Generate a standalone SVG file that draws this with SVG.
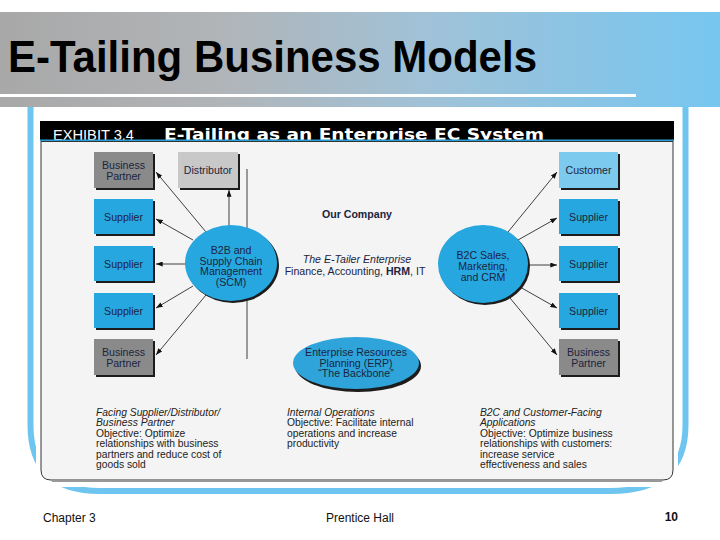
<svg xmlns="http://www.w3.org/2000/svg" width="720" height="540" viewBox="0 0 720 540">
<defs>
<linearGradient id="hdr" x1="0" y1="0" x2="1" y2="0">
<stop offset="0" stop-color="#a8a8a8"/>
<stop offset="0.3" stop-color="#b1b4b7"/>
<stop offset="0.6" stop-color="#a0c2d8"/>
<stop offset="1" stop-color="#76c6f0"/>
</linearGradient>
<marker id="ah" viewBox="0 0 8 6" refX="8" refY="3" markerWidth="7" markerHeight="5" orient="auto" markerUnits="userSpaceOnUse">
<path d="M0,0 L8,3 L0,6 Z" fill="#111"/>
</marker>
<style>
.sans{font-family:"Liberation Sans",Arial,sans-serif}
.lbl{font-family:"Liberation Sans",Arial,sans-serif;font-size:10.6px;fill:#1b2440;text-anchor:middle}
.cap{font-family:"Liberation Sans",Arial,sans-serif;font-size:10.3px;fill:#222}
.sh{fill:#1c1c1c}
.blue{fill:#27a7df}
.gray{fill:#8a8a8a}
.conn line{stroke:#111;stroke-width:0.8;fill:none}
.foot{font-family:"Liberation Sans",Arial,sans-serif;font-size:12px;fill:#111}
</style>
</defs>
<rect width="720" height="540" fill="#ffffff"/>
<!-- header band -->
<rect x="0" y="12" width="720" height="95" fill="url(#hdr)"/>
<rect x="0" y="94" width="636" height="3" fill="#ffffff"/>
<text x="8" y="72" class="sans" font-size="45" font-weight="bold" fill="#000" textLength="529" lengthAdjust="spacingAndGlyphs">E-Tailing Business Models</text>
<!-- frame -->
<path d="M30.5,107 V425 Q30.5,491 100,491 H610 Q685.5,491 685.5,425 V107" fill="none" stroke="#6ec5f0" stroke-width="6"/>
<rect x="36" y="108" width="642" height="379" fill="#ffffff"/>
<!-- exhibit -->
<rect x="40" y="121" width="634" height="20" fill="#000"/>
<text x="53" y="140" class="sans" font-size="14" fill="#fff" textLength="81" lengthAdjust="spacingAndGlyphs">EXHIBIT 3.4</text>
<text x="164" y="140" font-family="'DejaVu Sans',sans-serif" font-weight="bold" font-size="16" fill="#fff" textLength="380" lengthAdjust="spacingAndGlyphs">E-Tailing as an Enterprise EC System</text>
<rect x="40" y="139.5" width="634" height="2" fill="#2a9fd6"/>
<path d="M41,141.5 H673 V470 Q673,480 663,480 H51 Q41,480 41,470 Z" fill="#f4f4f4" stroke="#333" stroke-width="1"/>
<path d="M52,481.5 H662" stroke="#999" stroke-width="1.2"/>
<!-- connectors -->
<g id="connectors" class="conn">
<line x1="247" y1="169" x2="247" y2="359"/>
<line x1="229" y1="226" x2="229" y2="190" marker-end="url(#ah)"/>
<line x1="206" y1="232" x2="156" y2="172" marker-end="url(#ah)"/>
<line x1="193" y1="240" x2="156" y2="219" marker-end="url(#ah)"/>
<line x1="186" y1="264" x2="156" y2="264" marker-end="url(#ah)"/>
<line x1="193" y1="286" x2="156" y2="308" marker-end="url(#ah)"/>
<line x1="206" y1="295" x2="156" y2="355" marker-end="url(#ah)"/>
<line x1="508" y1="232" x2="557" y2="172" marker-end="url(#ah)"/>
<line x1="518" y1="240" x2="557" y2="218" marker-end="url(#ah)"/>
<line x1="528" y1="265" x2="557" y2="265" marker-end="url(#ah)"/>
<line x1="520" y1="287" x2="557" y2="308" marker-end="url(#ah)"/>
<line x1="510" y1="298" x2="557" y2="355" marker-end="url(#ah)"/>
</g>
<!-- left boxes -->
<g id="bp-left-top">
<rect x="96" y="154" width="59" height="36" class="sh"/>
<rect x="94" y="152" width="59" height="36" class="gray"/>
<text class="lbl" x="123.5" y="168.5">Business</text>
<text class="lbl" x="123.5" y="179.5">Partner</text>
</g>
<g id="distributor">
<rect x="180" y="154" width="60" height="36" class="sh"/>
<rect x="178" y="152" width="60" height="36" fill="#c8c8c8"/>
<text class="lbl" x="208" y="174">Distributor</text>
</g>
<g id="supplier-left-1">
<rect x="96" y="201" width="59" height="35" class="sh"/>
<rect x="94" y="199" width="59" height="35" class="blue"/>
<text class="lbl" x="123.5" y="220.5">Supplier</text>
</g>
<g id="supplier-left-2">
<rect x="96" y="248" width="59" height="35" class="sh"/>
<rect x="94" y="246" width="59" height="35" class="blue"/>
<text class="lbl" x="123.5" y="267.5">Supplier</text>
</g>
<g id="supplier-left-3">
<rect x="96" y="295" width="59" height="35" class="sh"/>
<rect x="94" y="293" width="59" height="35" class="blue"/>
<text class="lbl" x="123.5" y="314.5">Supplier</text>
</g>
<g id="bp-left-bottom">
<rect x="96" y="341" width="59" height="36" class="sh"/>
<rect x="94" y="339" width="59" height="36" class="gray"/>
<text class="lbl" x="123.5" y="355.5">Business</text>
<text class="lbl" x="123.5" y="366.5">Partner</text>
</g>
<!-- right boxes -->
<g id="customer">
<rect x="561" y="154" width="59" height="36" class="sh"/>
<rect x="559" y="152" width="59" height="36" fill="#7ccaee"/>
<text class="lbl" x="588.5" y="174">Customer</text>
</g>
<g id="supplier-right-1">
<rect x="561" y="201" width="59" height="35" class="sh"/>
<rect x="559" y="199" width="59" height="35" class="blue"/>
<text class="lbl" x="588.5" y="220.5">Supplier</text>
</g>
<g id="supplier-right-2">
<rect x="561" y="248" width="59" height="35" class="sh"/>
<rect x="559" y="246" width="59" height="35" class="blue"/>
<text class="lbl" x="588.5" y="267.5">Supplier</text>
</g>
<g id="supplier-right-3">
<rect x="561" y="295" width="59" height="35" class="sh"/>
<rect x="559" y="293" width="59" height="35" class="blue"/>
<text class="lbl" x="588.5" y="314.5">Supplier</text>
</g>
<g id="bp-right">
<rect x="561" y="341" width="59" height="36" class="sh"/>
<rect x="559" y="339" width="59" height="36" class="gray"/>
<text class="lbl" x="588.5" y="355.5">Business</text>
<text class="lbl" x="588.5" y="366.5">Partner</text>
</g>
<!-- circles -->
<g id="b2b-scm">
<ellipse cx="233" cy="265" rx="46" ry="38" class="sh"/>
<ellipse cx="231" cy="263" rx="46" ry="38" class="blue"/>
<text class="lbl" x="231" y="254">B2B and</text>
<text class="lbl" x="231" y="264.5">Supply Chain</text>
<text class="lbl" x="231" y="275">Management</text>
<text class="lbl" x="231" y="285.5">(SCM)</text>
</g>
<g id="b2c-crm">
<ellipse cx="485" cy="266" rx="45" ry="39" class="sh"/>
<ellipse cx="483" cy="264" rx="45" ry="39" class="blue"/>
<text class="lbl" x="483" y="259">B2C Sales,</text>
<text class="lbl" x="483" y="270">Marketing,</text>
<text class="lbl" x="483" y="281">and CRM</text>
</g>
<g id="erp">
<ellipse cx="358" cy="366" rx="63" ry="26" class="sh"/>
<ellipse cx="356" cy="363" rx="63" ry="26" fill="#2ea4da"/>
<text class="lbl" x="356" y="356">Enterprise Resources</text>
<text class="lbl" x="356" y="366.5">Planning (ERP)</text>
<text class="lbl" x="356" y="377">“The Backbone”</text>
</g>
<g id="our-company">
<text class="lbl" x="357" y="218" font-weight="bold" fill="#111">Our Company</text>
<text class="lbl" x="357" y="262.5" font-style="italic" fill="#111" font-size="10.8">The E-Tailer Enterprise</text>
<text class="lbl" x="355" y="274.5" fill="#111" font-size="10.8">Finance, Accounting, <tspan font-weight="bold">HRM</tspan>, IT</text>
</g>
<!-- captions -->
<g id="caption-left" class="cap">
<text x="96" y="415.5" font-style="italic">Facing Supplier/Distributor/</text>
<text x="96" y="426" font-style="italic">Business Partner</text>
<text x="96" y="436.5">Objective: Optimize</text>
<text x="96" y="447">relationships with business</text>
<text x="96" y="457.5">partners and reduce cost of</text>
<text x="96" y="468">goods sold</text>
</g>
<g id="caption-middle" class="cap">
<text x="287" y="415.5" font-style="italic">Internal Operations</text>
<text x="287" y="426">Objective: Facilitate internal</text>
<text x="287" y="436.5">operations and increase</text>
<text x="287" y="447">productivity</text>
</g>
<g id="caption-right" class="cap">
<text x="480" y="415.5" font-style="italic">B2C and Customer-Facing</text>
<text x="480" y="426" font-style="italic">Applications</text>
<text x="480" y="436.5">Objective: Optimize business</text>
<text x="480" y="447">relationships with customers:</text>
<text x="480" y="457.5">increase service</text>
<text x="480" y="468">effectiveness and sales</text>
</g>
<!-- footer -->
<text x="43" y="522" class="foot">Chapter 3</text>
<text x="360" y="522" class="foot" text-anchor="middle">Prentice Hall</text>
<text x="678" y="521" class="foot" text-anchor="end" font-weight="bold">10</text>
</svg>
